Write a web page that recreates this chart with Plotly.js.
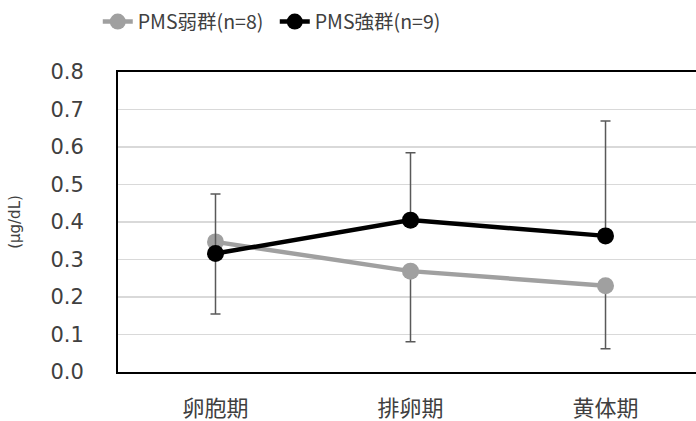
<!DOCTYPE html>
<html>
<head>
<meta charset="utf-8">
<script src="https://cdn.plot.ly/plotly-3.0.1.min.js"></script>
<style>html,body{margin:0;padding:0;background:#fff;}#chart{width:696px;height:421px;}</style>
</head>
<body>
<div id="chart"></div>
<script>
const categories = ["卵胞期", "排卵期", "黄体期"];
const weakName = "PMS弱群(n=8)";
const strongName = "PMS強群(n=9)";
const weakValues = [0.347, 0.269, 0.230];
const weakErrMinus = [0.192, 0.188, 0.168];
const strongValues = [0.316, 0.405, 0.363];
const strongErrPlus = [0.159, 0.180, 0.306];
const yTicks = [0, 0.1, 0.2, 0.3, 0.4, 0.5, 0.6, 0.7, 0.8];
const yTickLabels = ["0.0", "0.1", "0.2", "0.3", "0.4", "0.5", "0.6", "0.7", "0.8"];
const yTitle = "(μg/dL)";

const textColor = "#404040";
const errColor = "#595959";

const traces = [
  {
    x: categories, y: weakValues, name: weakName, type: "scatter", mode: "lines+markers",
    line: {color: "#a0a0a0", width: 4.5},
    marker: {color: "#a0a0a0", size: 17},
    error_y: {type: "data", symmetric: false, array: [0, 0, 0], arrayminus: weakErrMinus,
              color: errColor, thickness: 1.5, width: 5}
  },
  {
    x: categories, y: strongValues, name: strongName, type: "scatter", mode: "lines+markers",
    line: {color: "#000000", width: 4.5},
    marker: {color: "#000000", size: 17},
    error_y: {type: "data", symmetric: false, array: strongErrPlus, arrayminus: [0, 0, 0],
              color: errColor, thickness: 1.5, width: 5}
  }
];

const layout = {
  width: 696, height: 421,
  margin: {l: 118, r: 0, t: 72, b: 49},
  paper_bgcolor: "#ffffff", plot_bgcolor: "#ffffff",
  font: {family: "'DejaVu Sans', 'Noto Sans CJK JP', sans-serif", color: textColor},
  showlegend: true,
  legend: {
    orientation: "h", x: -0.035, xanchor: "left", y: 1.167, yanchor: "middle",
    entrywidth: 132, entrywidthmode: "pixels",
    font: {family: "'Noto Sans CJK JP', sans-serif", size: 19.5, color: textColor},
    bgcolor: "rgba(0,0,0,0)"
  },
  xaxis: {
    type: "category", range: [-0.5, 2.464],
    showline: true, linecolor: "#000000", linewidth: 2, mirror: true,
    showgrid: false, ticks: "", fixedrange: true,
    tickfont: {family: "'Noto Sans CJK JP', sans-serif", size: 22, color: textColor},
    ticklabelstandoff: 16
  },
  yaxis: {
    range: [0, 0.8], tickvals: yTicks, ticktext: yTickLabels,
    showline: true, linecolor: "#000000", linewidth: 2, mirror: false,
    showgrid: true, gridcolor: "#d9d9d9", gridwidth: 1.5, zeroline: false,
    ticks: "", ticklabelstandoff: 28,
    tickfont: {family: "'DejaVu Sans', sans-serif", size: 21, color: textColor},
    title: {text: yTitle, standoff: 26, font: {family: "'DejaVu Sans', sans-serif", size: 15, color: textColor}}
  }
};

Plotly.newPlot("chart", traces, layout, {displayModeBar: false, staticPlot: true});
</script>
</body>
</html>
